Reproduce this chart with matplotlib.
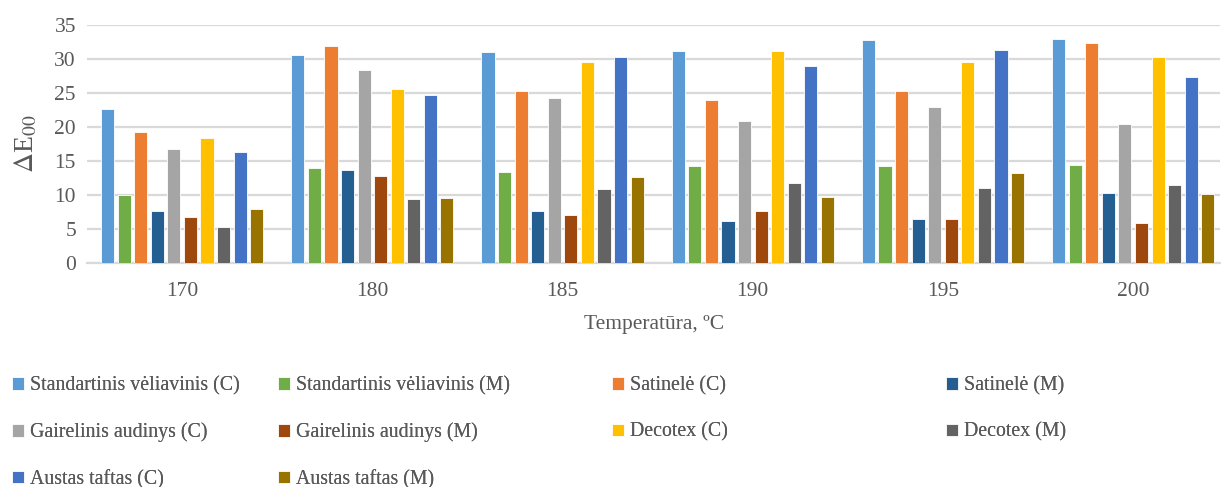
import numpy as np
import matplotlib.pyplot as plt

plt.rcParams['font.family'] = ['Liberation Serif', 'DejaVu Serif']
plt.rcParams['mathtext.fontset'] = 'stix'

temperatures = ['170', '180', '185', '190', '195', '200']

series_names = [
    'Standartinis vėliavinis (C)', 'Standartinis vėliavinis (M)',
    'Satinelė (C)', 'Satinelė (M)',
    'Gairelinis audinys (C)', 'Gairelinis audinys (M)',
    'Decotex (C)', 'Decotex (M)',
    'Austas taftas (C)', 'Austas taftas (M)',
]

standartinis_c = [22.7, 30.5, 31.0, 31.1, 32.8, 32.9]
standartinis_m = [10.0, 14.0, 13.4, 14.3, 14.2, 14.4]
satinele_c = [19.3, 31.9, 25.3, 23.9, 25.3, 32.3]
satinele_m = [7.7, 13.6, 7.6, 6.1, 6.5, 10.3]
gairelinis_c = [16.7, 28.4, 24.3, 20.8, 22.9, 20.4]
gairelinis_m = [6.7, 12.8, 7.0, 7.7, 6.4, 5.9]
decotex_c = [18.4, 25.6, 29.6, 31.2, 29.5, 30.2]
decotex_m = [5.3, 9.4, 10.9, 11.8, 11.0, 11.5]
austas_c = [16.3, 24.7, 30.2, 29.0, 31.3, 27.3]
austas_m = [7.9, 9.5, 12.7, 9.7, 13.2, 10.2]

values = [standartinis_c, standartinis_m, satinele_c, satinele_m,
          gairelinis_c, gairelinis_m, decotex_c, decotex_m,
          austas_c, austas_m]

colors = ['#5B9BD5', '#70AD47', '#ED7D31', '#255E91', '#A5A5A5',
          '#9E480E', '#FFC000', '#636363', '#4472C4', '#997300']

text_color = '#595959'
grid_color = '#D9D9D9'

fig = plt.figure(figsize=(12.21, 4.87), dpi=100)
ax = fig.add_axes([0.0713, 0.46, 0.928, 0.489])

x = np.arange(len(temperatures))
slot = 0.0871
width = 0.069
bars = []
for i, (name, vals, c) in enumerate(zip(series_names, values, colors)):
    offset = (i - 4.5) * slot
    b = ax.bar(x + offset, vals, width, color=c, edgecolor='white',
               linewidth=0.6, label=name, zorder=3)
    bars.append(b)

ax.set_xlim(-0.5, 5.457)
ax.set_ylim(0, 35)
ax.set_yticks(range(0, 36, 5))
ax.set_xticks(x)
ax.set_xticklabels(temperatures)
ax.yaxis.grid(True, color=grid_color, linewidth=1.6, zorder=0)
ax.set_axisbelow(True)
for side in ['top', 'right', 'left']:
    ax.spines[side].set_visible(False)
ax.spines['bottom'].set_color(grid_color)
ax.spines['bottom'].set_linewidth(1.6)
ax.tick_params(axis='both', length=0, labelsize=15.5, labelcolor=text_color)
ax.tick_params(axis='x', pad=14)
ax.tick_params(axis='y', pad=8)

ax.set_xlabel('Temperatūra, ºC', fontsize=15.5, color=text_color, labelpad=10)
ax.set_ylabel(r'$\Delta$E$_{00}$', fontsize=20, color=text_color, labelpad=11)

# legend laid out row by row in four columns
columns = [[0, 4, 8], [1, 5, 9], [2, 6], [3, 7]]
col_x = [0.0098, 0.2277, 0.5012, 0.7748]
for cx, idx in zip(col_x, columns):
    leg = fig.legend([bars[i] for i in idx], [series_names[i] for i in idx],
                     loc='upper left', bbox_to_anchor=(cx, 0.228),
                     frameon=False, fontsize=14.3, handlelength=0.6,
                     handleheight=0.6, handletextpad=0.3,
                     labelspacing=1.38, borderaxespad=0, borderpad=0)
    for t in leg.get_texts():
        t.set_color(text_color)
    fig.add_artist(leg)

fig.savefig('out.png', dpi=100)
